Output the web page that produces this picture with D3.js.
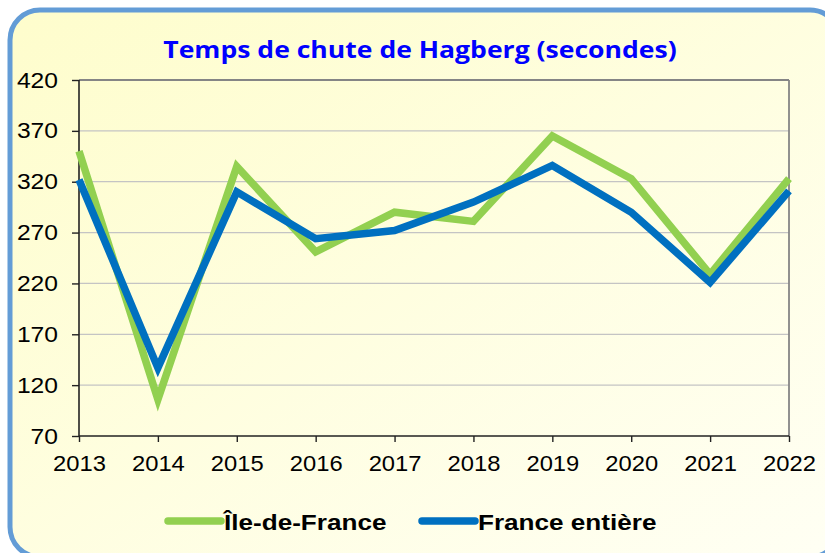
<!DOCTYPE html>
<html><head><meta charset="utf-8">
<script src="https://cdn.jsdelivr.net/npm/d3@7/dist/d3.min.js"></script>
<style>body{margin:0;background:#fff;}svg{display:block;}</style>
</head><body>
<script>
const years = ["2013","2014","2015","2016","2017","2018","2019","2020","2021","2022"];
const ileDeFrance = [350, 106, 335, 251, 290, 281, 365, 323, 229, 323];
const franceEntiere = [322, 137, 310, 264, 272, 300, 336, 290, 221, 311];
const yTicks = [70, 120, 170, 220, 270, 320, 370, 420];
const seriesNames = ["Île-de-France", "France entière"];
const colors = ["#92D050", "#0070C0"];

const W = 825, H = 553;
const svg = d3.select("body").append("svg").attr("width", W).attr("height", H);
const defs = svg.append("defs");
const grad = defs.append("linearGradient").attr("id","bg").attr("x1","0").attr("y1","0").attr("x2","1").attr("y2","1");
grad.append("stop").attr("offset","0").attr("stop-color","#FEFDCC");
grad.append("stop").attr("offset","1").attr("stop-color","#FFFFF4");

svg.append("rect").attr("x",10).attr("y",10).attr("width",830).attr("height",547)
  .attr("rx",30).attr("ry",30).attr("fill","url(#bg)").attr("stroke","#639CD6").attr("stroke-width",5);

function stretch(sel, f) {
  sel.each(function() {
    const w = this.getComputedTextLength();
    d3.select(this).attr("textLength", w * f).attr("lengthAdjust", "spacingAndGlyphs");
  });
}

const x = d3.scalePoint().domain(years).range([79, 789]);
const y = d3.scaleLinear().domain([70, 420]).range([436, 80]);

// gridlines
svg.append("g").selectAll("line").data(yTicks.slice(1, -1)).join("line")
  .attr("x1", 79).attr("x2", 789).attr("y1", d => y(d)).attr("y2", d => y(d))
  .attr("stroke", "#C4C4C4").attr("stroke-width", 1.3);
// plot frame top/right
svg.append("line").attr("x1",79).attr("x2",789).attr("y1",y(420)).attr("y2",y(420)).attr("stroke","#858585").attr("stroke-width",1.8);
svg.append("line").attr("x1",789).attr("x2",789).attr("y1",y(420)).attr("y2",y(70)).attr("stroke","#858585").attr("stroke-width",1.8);

// axes
const yAxis = svg.append("g").attr("transform","translate(79,0)")
  .call(d3.axisLeft(y).tickValues(yTicks).tickSize(7).tickPadding(14));
const xAxis = svg.append("g").attr("transform","translate(0,436)")
  .call(d3.axisBottom(x).tickSize(6).tickPadding(13));
[yAxis, xAxis].forEach(a => {
  a.select(".domain").attr("stroke","#222").attr("stroke-width",1.6);
  a.selectAll(".tick line").attr("stroke","#222").attr("stroke-width",1.4);
  a.selectAll("text").attr("font-family","'Liberation Sans', Arial, sans-serif").attr("font-size",22).attr("fill","#000");
});
yAxis.select(".domain").attr("d","M0,80V436");
xAxis.select(".domain").attr("d","M79,0H789");
stretch(yAxis.selectAll("text"), 1.12);
stretch(xAxis.selectAll("text"), 1.08);

// lines
const line = d3.line().x((d,i) => x(years[i])).y(d => y(d));
[ileDeFrance, franceEntiere].forEach((s, k) => {
  svg.append("path").datum(s).attr("d", line).attr("fill","none")
    .attr("stroke", colors[k]).attr("stroke-width", 7.5).attr("stroke-linejoin","miter").attr("stroke-linecap","butt");
});

// title
const title = svg.append("text").attr("x", 420).attr("y", 58).attr("text-anchor","middle")
  .attr("font-family","'Open Sans', 'Noto Sans', sans-serif").attr("font-weight","bold").attr("font-size",22.5)
  .attr("fill","#0000FF").text("Temps de chute de Hagberg (secondes)");
stretch(title, 1.18);

// legend
const legX = [168, 422];
seriesNames.forEach((n, k) => {
  const g = svg.append("g");
  g.append("line").attr("x1", legX[k]).attr("x2", legX[k] + 53).attr("y1", 521).attr("y2", 521)
    .attr("stroke", colors[k]).attr("stroke-width", 7.5).attr("stroke-linecap","round");
  const t = g.append("text").attr("x", legX[k] + 56).attr("y", 530)
    .attr("font-family","'Liberation Sans', Arial, sans-serif").attr("font-weight","bold").attr("font-size",22.5)
    .attr("fill","#000").text(n);
  stretch(t, 1.16);
});
</script>
</body></html>
